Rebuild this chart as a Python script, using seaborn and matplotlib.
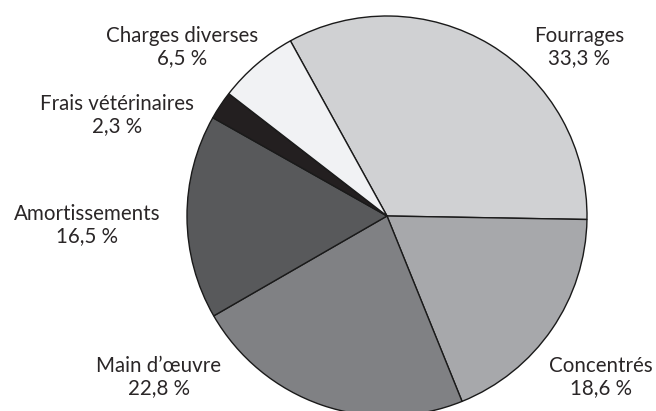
import matplotlib
matplotlib.use("Agg")
import matplotlib.pyplot as plt
import seaborn as sns

categories = ["Fourrages", "Concentrés", "Main d\u2019œuvre", "Amortissements",
              "Frais vétérinaires", "Charges diverses"]
values = [33.3, 18.6, 22.8, 16.5, 2.3, 6.5]
value_labels = ["33,3 %", "18,6 %", "22,8 %", "16,5 %", "2,3 %", "6,5 %"]
colors = ["#d0d1d3", "#a7a8ab", "#808184", "#58595b", "#231f20", "#f1f2f4"]

sns.set_theme(style="white")
plt.rcParams["font.family"] = ["Lato", "DejaVu Sans"]

W, H = 656, 411
fig = plt.figure(figsize=(W / 100, H / 100), dpi=100)
cx, cy, r = 387, 216, 200
ax = fig.add_axes([(cx - r) / W, (H - cy - r) / H, 2 * r / W, 2 * r / H])
ax.axis("off")

start = values[0] * 3.6 - 1
wedges, _ = ax.pie(values, colors=colors, startangle=start, counterclock=False,
                   wedgeprops=dict(edgecolor="#1a1a1a", linewidth=1.0))
for w in wedges:
    w.set_clip_on(False)
ax.set_xlim(-1, 1)
ax.set_ylim(-1, 1)
ax.set_aspect("equal")

# label block centres in pixel coords
label_pos = [(579, 47), (601, 377), (159, 377), (87, 225), (117, 115), (182, 47)]
for cat, vl, (px, py) in zip(categories, value_labels, label_pos):
    fig.text(px / W, 1 - py / H, cat + "\n" + vl, ha="center", va="center",
             fontsize=14.8, fontweight="normal", color="#2a2627", linespacing=1.18)

fig.savefig("out.png", dpi=100)
